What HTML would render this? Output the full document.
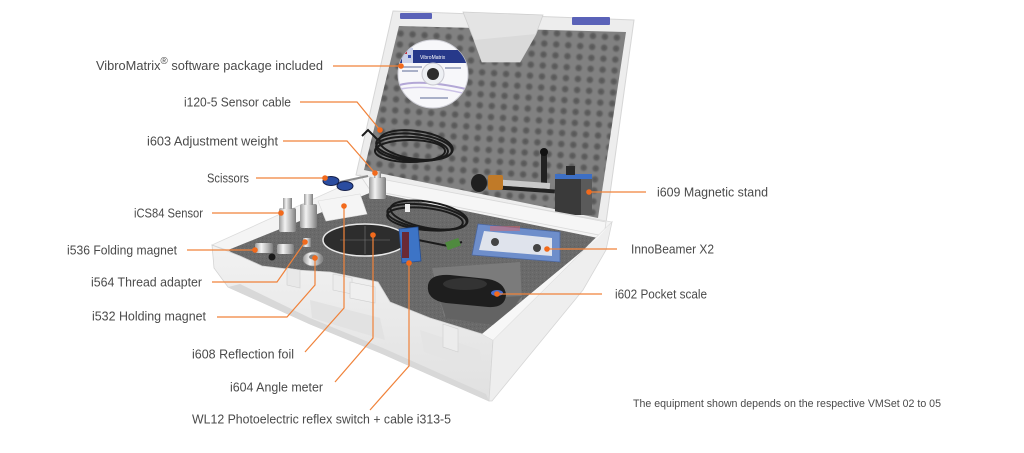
<!DOCTYPE html>
<html><head><meta charset="utf-8">
<style>
html,body{margin:0;padding:0;background:#fff;}
svg{display:block;}
text{font-family:"Liberation Sans",sans-serif;fill:#4a4a4a;font-size:13px;}
</style></head><body>
<svg width="1024" height="453" viewBox="0 0 1024 453" xmlns="http://www.w3.org/2000/svg">
<defs>
 <radialGradient id="dimple">
   <stop offset="0" stop-color="#555555"/>
   <stop offset="0.5" stop-color="#626262"/>
   <stop offset="1" stop-color="#808080" stop-opacity="0"/>
 </radialGradient>
 <pattern id="egg" width="12" height="11" patternUnits="userSpaceOnUse" patternTransform="rotate(4)">
   <rect width="12" height="11" fill="#818181"/>
   <circle cx="6" cy="5.5" r="5" fill="url(#dimple)"/>
 </pattern>
 <pattern id="grain" width="4" height="4" patternUnits="userSpaceOnUse">
   <rect width="4" height="4" fill="#6a6a6a"/>
   <rect x="0" y="0" width="1" height="1" fill="#747474"/>
   <rect x="2" y="2" width="1" height="1" fill="#606060"/>
 </pattern>
 <linearGradient id="silver" x1="0" x2="1" y1="0" y2="0">
   <stop offset="0" stop-color="#9a9a9a"/>
   <stop offset="0.35" stop-color="#f2f2f2"/>
   <stop offset="0.7" stop-color="#b8b8b8"/>
   <stop offset="1" stop-color="#7c7c7c"/>
 </linearGradient>
 <linearGradient id="front" x1="0" x2="0" y1="0" y2="1">
   <stop offset="0" stop-color="#f2f2f2"/>
   <stop offset="1" stop-color="#e0e0e0"/>
 </linearGradient>
 <clipPath id="cd"><ellipse cx="433" cy="74" rx="35" ry="34"/></clipPath>
</defs>

<!-- LID -->
<polygon points="393,11 634,20 605,230 356,175" fill="#ededed" stroke="#d6d6d6" stroke-width="1"/>
<polygon points="399,26 626,32 598,218 364,170" fill="url(#egg)"/>
<polygon points="463,12 543,15 536,34 528,48 520,62 482,62 474,40" fill="#e4e4e4" stroke="#cfcfcf" stroke-width="0.8"/>
<polygon points="474,40 536,34 528,48 520,62 482,62" fill="#dadada"/>
<rect x="400" y="13" width="32" height="6" fill="#5a62b8" rx="1"/>
<rect x="572" y="17" width="38" height="8" fill="#5a62b8" rx="1"/>

<!-- CD -->
<ellipse cx="433" cy="74" rx="35" ry="34" fill="#f7f7fa" stroke="#cfcfd6"/>
<g clip-path="url(#cd)">
  <rect x="396" y="50" width="74" height="13" fill="#27398a"/>
  <rect x="402" y="48" width="11" height="15" fill="#c8cfe8"/>
  <rect x="404" y="51" width="3" height="3" fill="#c0303a"/>
  <rect x="408" y="55" width="3" height="3" fill="#3a4fb0"/>
  <path d="M396,86 Q420,78 470,90" stroke="#b3a7d6" stroke-width="2" fill="none"/>
  <path d="M396,90 Q425,83 470,95" stroke="#cbc2e6" stroke-width="1.5" fill="none"/>
  <rect x="402" y="66" width="20" height="2" fill="#a9b0c8"/>
  <rect x="402" y="70" width="16" height="2" fill="#a9b0c8"/>
  <rect x="445" y="67" width="16" height="2" fill="#a9b0c8"/>
  <rect x="420" y="97" width="28" height="2" fill="#a9b0c8"/>
</g>
<text x="420" y="59" style="font-size:5px;fill:#fff">VibroMatrix</text>
<circle cx="433" cy="74" r="11" fill="#eef0f4" stroke="#c9c9d0"/>
<circle cx="433" cy="74" r="6" fill="#2d2d2d"/>

<!-- Cable coil 1 -->
<g fill="none" stroke="#1b1b1b" stroke-width="2">
  <ellipse cx="414" cy="147" rx="38" ry="13" transform="rotate(6 414 147)"/>
  <ellipse cx="412" cy="149" rx="36" ry="12" transform="rotate(4 412 149)"/>
  <ellipse cx="416" cy="145" rx="37" ry="14" transform="rotate(8 416 145)"/>
  <ellipse cx="410" cy="151" rx="35" ry="11"/>
  <path d="M378,140 L368,130 L362,136"/>
</g>

<!-- Magnetic stand -->
<rect x="541" y="150" width="6" height="42" fill="#222"/>
<circle cx="544" cy="152" r="4" fill="#111"/>
<rect x="490" y="181" width="60" height="6" fill="#c9c9c9" transform="rotate(4 520 184)"/>
<rect x="500" y="187" width="55" height="4" fill="#222" transform="rotate(4 520 188)"/>
<rect x="488" y="175" width="15" height="15" fill="#c07a28" rx="2"/>
<ellipse cx="479" cy="183" rx="8" ry="9" fill="#1f1f1f"/>
<rect x="555" y="176" width="37" height="39" fill="#3a3a3a"/>
<rect x="581" y="176" width="11" height="39" fill="#5a5a5a"/>
<rect x="555" y="174" width="37" height="5" fill="#3d6fc4"/>
<rect x="566" y="166" width="9" height="9" fill="#2a2a2a"/>

<!-- BASE -->
<polygon points="212,245 362,177 612,222 493,340" fill="#f4f4f4" stroke="#dcdcdc" stroke-width="0.8"/>
<polygon points="360,175 606,222 604,236 370,190" fill="#f6f6f6" stroke="#d8d8d8" stroke-width="0.8"/>
<polygon points="228,250 372,192 598,238 482,334 430,318 390,302 378,282 330,272 296,270 262,266 240,258" fill="url(#grain)"/>
<polygon points="432,268 520,262 522,302 444,316" fill="#7b7b7b"/>
<polygon points="440,300 522,296 500,326 446,318" fill="#636363"/>
<!-- front wall -->
<polygon points="212,245 240,256 262,266 296,270 330,272 378,282 390,302 430,318 482,334 493,340 489,401 383,354 310,324 228,287 214,268" fill="url(#front)" stroke="#d4d4d4" stroke-width="0.8"/>
<polygon points="240,284 310,318 383,348 486,394 489,401 383,354 310,324 228,287" fill="#d8d8d8"/>
<polygon points="310,300 380,318 385,340 312,318" fill="#e2e2e2"/>
<polygon points="420,330 480,350 482,372 424,352" fill="#e4e4e4"/>
<polygon points="287,268 300,270 300,288 287,285" fill="#e8e8e8" stroke="#cfcfcf" stroke-width="0.6"/>
<polygon points="333,274 352,278 352,294 333,290" fill="#ececec" stroke="#cfcfcf" stroke-width="0.6"/>
<polygon points="350,282 375,287 375,303 350,298" fill="#efefef" stroke="#cccccc" stroke-width="0.6"/>
<polygon points="443,324 458,329 458,352 443,347" fill="#ececec" stroke="#cfcfcf" stroke-width="0.6"/>
<!-- right side face -->
<polygon points="493,340 612,222 606,250 583,290 492,401 489,401" fill="#eeeeee" stroke="#d6d6d6" stroke-width="0.8"/>
<polygon points="493,340 612,222 598,238 482,334" fill="#f7f7f7"/>

<!-- base items -->
<polygon points="318,201 360,194 367,214 326,221" fill="#f5f5f5" stroke="#dcdcdc" stroke-width="0.6"/>
<rect x="279" y="208" width="17" height="24" fill="url(#silver)" rx="2"/>
<rect x="283" y="198" width="9" height="11" fill="url(#silver)"/>
<rect x="300" y="204" width="17" height="24" fill="url(#silver)" rx="2"/>
<rect x="304" y="194" width="9" height="11" fill="url(#silver)"/>
<rect x="369" y="177" width="17" height="22" fill="url(#silver)" rx="2"/>
<rect x="374" y="171" width="7" height="7" fill="url(#silver)"/>
<path d="M340,182 L368,176" stroke="#8c8c8c" stroke-width="2"/>
<ellipse cx="331" cy="181" rx="8" ry="4.5" fill="#2a4ca0" stroke="#15204a" stroke-width="1"/>
<ellipse cx="345" cy="186" rx="8" ry="4.5" fill="#2a4ca0" stroke="#15204a" stroke-width="1"/>
<ellipse cx="365" cy="240" rx="42" ry="16" fill="#2d2d2d" stroke="#e8e8e8" stroke-width="1.5"/>
<path d="M340,240 H390 M365,226 V254" stroke="#777" stroke-width="0.6"/>
<rect x="255" y="243" width="18" height="10" fill="url(#silver)" rx="2"/>
<rect x="277" y="244" width="17" height="10" fill="url(#silver)" rx="2"/>
<circle cx="272" cy="257" r="3.5" fill="#1a1a1a"/>
<rect x="303" y="238" width="8" height="9" fill="url(#silver)"/>
<ellipse cx="313" cy="259" rx="10" ry="7" fill="url(#silver)" stroke="#8a8a8a" stroke-width="0.6"/>
<ellipse cx="313" cy="257" rx="4" ry="2.5" fill="#888"/>
<g fill="none" stroke="#1b1b1b" stroke-width="2">
  <ellipse cx="427" cy="217" rx="40" ry="12" transform="rotate(8 427 217)"/>
  <ellipse cx="425" cy="219" rx="38" ry="11" transform="rotate(6 425 219)"/>
  <ellipse cx="429" cy="215" rx="39" ry="13" transform="rotate(10 429 215)"/>
  <path d="M418,240 L448,246 L462,242"/>
</g>
<rect x="446" y="240" width="14" height="8" fill="#4f8a3f" transform="rotate(-20 453 244)"/>
<rect x="405" y="204" width="5" height="8" fill="#f0f0f0"/>
<polygon points="399,229 418,227 421,261 402,263" fill="#3d74c6" stroke="#274f94" stroke-width="0.8"/>
<rect x="402" y="232" width="7" height="26" fill="#6a2a35"/>
<polygon points="478,224 560,232 560,262 472,255" fill="#6e8ecb" stroke="#4b669e" stroke-width="0.8"/>
<polygon points="484,231 552,238 552,256 479,250" fill="#dfe3ec"/>
<circle cx="495" cy="242" r="4" fill="#444"/>
<circle cx="537" cy="248" r="4" fill="#444"/>
<rect x="490" y="226" width="30" height="5" fill="#d66" opacity="0.5"/>
<path d="M428,285 Q430,274 450,275 L488,279 Q505,282 506,295 Q505,308 488,307 L446,303 Q426,300 428,285 Z" fill="#1e1e1e"/>
<ellipse cx="465" cy="284" rx="22" ry="6" fill="#333"/>
<ellipse cx="497" cy="293" rx="6" ry="3" fill="#4a6fd0"/>

<!-- CALLOUT LINES -->
<g fill="none" stroke="#f0823a" stroke-width="1.2">
  <path d="M333,66 H400"/>
  <path d="M300,102 H357 L380,130"/>
  <path d="M283,141 H347 L375,173"/>
  <path d="M256,178 H325"/>
  <path d="M212,213 H280"/>
  <path d="M344,206 V308 L305,352"/>
  <path d="M373,235 V338 L335,382"/>
  <path d="M409,263 V366 L370,410"/>
  <path d="M187,250 H255"/>
  <path d="M212,282 H277 L305,242"/>
  <path d="M217,317 H287 L315,285 V258"/>
  <path d="M589,192 H646"/>
  <path d="M547,249 H617"/>
  <path d="M497,294 H602"/>
</g>
<g fill="#f26a1c">
  <circle cx="401" cy="66" r="2.8"/>
  <circle cx="380" cy="130" r="2.8"/>
  <circle cx="375" cy="173" r="2.8"/>
  <circle cx="325" cy="178" r="2.8"/>
  <circle cx="281" cy="213" r="2.8"/>
  <circle cx="344" cy="206" r="2.8"/>
  <circle cx="373" cy="235" r="2.8"/>
  <circle cx="409" cy="263" r="2.8"/>
  <circle cx="255" cy="250" r="2.8"/>
  <circle cx="305" cy="242" r="2.8"/>
  <circle cx="315" cy="258" r="2.8"/>
  <circle cx="589" cy="192" r="2.8"/>
  <circle cx="547" cy="249" r="2.8"/>
  <circle cx="497" cy="294" r="2.8"/>
</g>

<!-- LABELS -->
<text x="96" y="70" textLength="227" lengthAdjust="spacingAndGlyphs">VibroMatrix<tspan dy="-6" style="font-size:10px">®</tspan><tspan dy="6"> software package included</tspan></text>
<text x="184" y="106.5" textLength="107" lengthAdjust="spacingAndGlyphs">i120-5 Sensor cable</text>
<text x="147" y="145.5" textLength="131" lengthAdjust="spacingAndGlyphs">i603 Adjustment weight</text>
<text x="207" y="182.5" textLength="42" lengthAdjust="spacingAndGlyphs">Scissors</text>
<text x="134" y="217.5" textLength="69" lengthAdjust="spacingAndGlyphs">iCS84 Sensor</text>
<text x="67" y="254.5" textLength="110" lengthAdjust="spacingAndGlyphs">i536 Folding magnet</text>
<text x="91" y="286.5" textLength="111" lengthAdjust="spacingAndGlyphs">i564 Thread adapter</text>
<text x="92" y="320.5" textLength="114" lengthAdjust="spacingAndGlyphs">i532 Holding magnet</text>
<text x="192" y="358.5" textLength="102" lengthAdjust="spacingAndGlyphs">i608 Reflection foil</text>
<text x="230" y="391.5" textLength="93" lengthAdjust="spacingAndGlyphs">i604 Angle meter</text>
<text x="192" y="423.5" textLength="259" lengthAdjust="spacingAndGlyphs">WL12 Photoelectric reflex switch + cable i313-5</text>
<text x="657" y="196.5" textLength="111" lengthAdjust="spacingAndGlyphs">i609 Magnetic stand</text>
<text x="631" y="253.5" textLength="83" lengthAdjust="spacingAndGlyphs">InnoBeamer X2</text>
<text x="615" y="298.5" textLength="92" lengthAdjust="spacingAndGlyphs">i602 Pocket scale</text>
<text x="633" y="407" textLength="308" lengthAdjust="spacingAndGlyphs" style="font-size:11px">The equipment shown depends on the respective VMSet 02 to 05</text>
</svg>
</body></html>
